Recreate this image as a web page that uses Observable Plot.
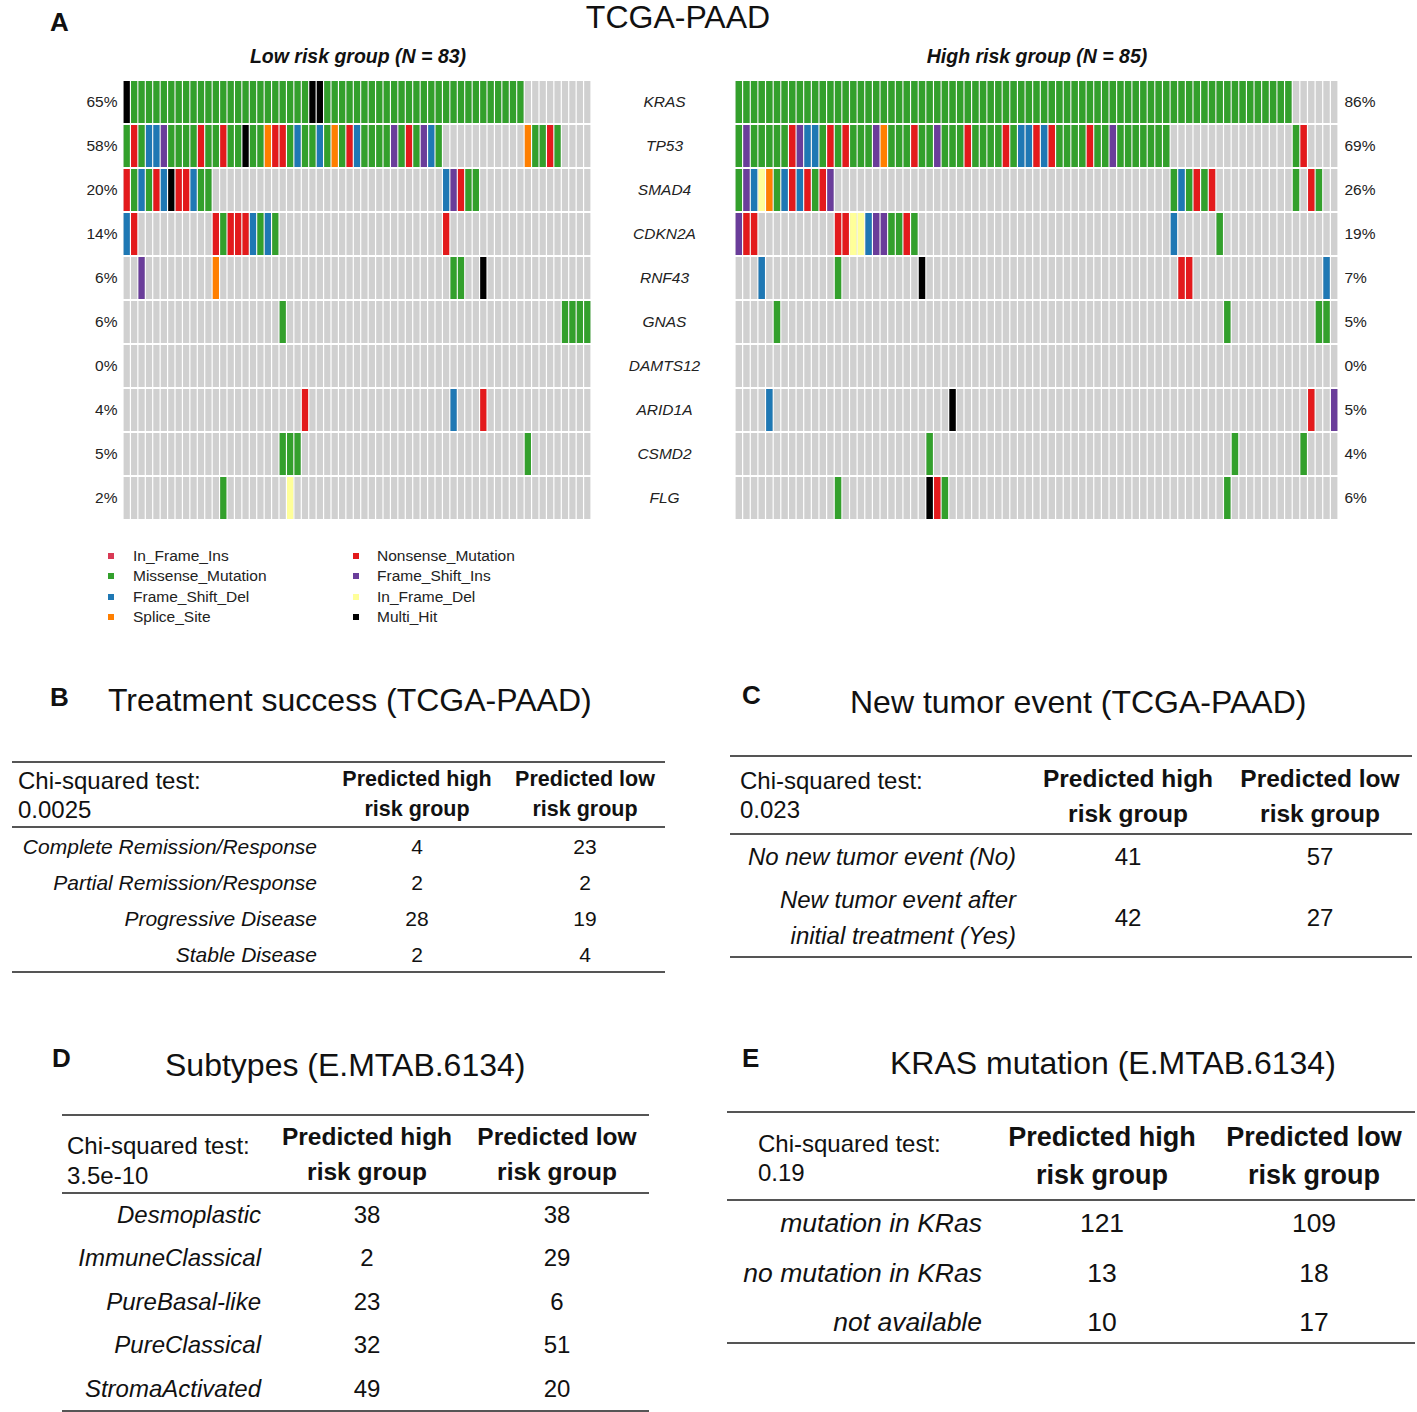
<!DOCTYPE html>
<html>
<head>
<meta charset="utf-8">
<script src="https://cdn.jsdelivr.net/npm/d3@7"></script>
<script src="https://cdn.jsdelivr.net/npm/@observablehq/plot@0.6"></script>
<style>
  html, body { margin: 0; padding: 0; background: #fff; }
  #fig { position: relative; width: 1417px; height: 1412px; overflow: hidden; font-family: "Liberation Sans", Arial, sans-serif; color: #111; }
  .t { position: absolute; white-space: nowrap; line-height: 1; transform: translateY(-50%); }
  .c { transform: translate(-50%, -50%); text-align: center; }
  .r { transform: translate(-100%, -50%); text-align: right; }
  .rule { position: absolute; height: 2px; background: #555; }
  svg { position: absolute; top: 0; }
</style>
</head>
<body>
<div id="fig"></div>
<script>
// ---------------- DATA ----------------
const genes = ["KRAS", "TP53", "SMAD4", "CDKN2A", "RNF43", "GNAS", "DAMTS12", "ARID1A", "CSMD2", "FLG"];
const lowPct = ["65%", "58%", "20%", "14%", "6%", "6%", "0%", "4%", "5%", "2%"];
const highPct = ["86%", "69%", "26%", "19%", "7%", "5%", "0%", "5%", "4%", "6%"];

// mutation codes: M Missense, N Nonsense, D Frame_Shift_Del, I Frame_Shift_Ins,
// S Splice_Site, d In_Frame_Del, i In_Frame_Ins, X Multi_Hit, . none
const mutTypes = ["In_Frame_Ins", "Missense_Mutation", "Frame_Shift_Del", "Splice_Site",
                  "Nonsense_Mutation", "Frame_Shift_Ins", "In_Frame_Del", "Multi_Hit"];
const mutCodes = ["i", "M", "D", "S", "N", "I", "d", "X"];
const mutColors = ["#d93a55", "#33a02c", "#1f78b4", "#ff7f00", "#e31a1c", "#6a3d9a", "#ffff99", "#000000"];

// low risk group: 63 displayed samples (groups of 10)
const lowRows = [
  "XMMMMMMMMM MMMMMMMMMM MMMMMXXMMM MMMMMMMMMM MMMMMMMMMM MMMM...... ...",
  "MNMDDIMMMM NMMNMMXMMS NNMDMMDMSM NDMMMMIMNM IDM....... ....SMMNM. ...",
  "NMDMNDXNND MM........ .......... .......... ...DINMM.. .......... ...",
  "DN........ ..NMNNNDMD M......... .......... ...N...... .......... ...",
  "..I....... ..S....... .......... .......... ....MM..X. .......... ...",
  ".......... .......... .M........ .......... .......... .........M MMM",
  ".......... .......... .......... .......... .......... .......... ...",
  ".......... .......... ....N..... .......... ....D...N. .......... ...",
  ".......... .......... .MMM...... .......... .......... ....M..... ...",
  ".......... ...M...... ..d....... .......... .......... .......... ..."
];
// high risk group: 79 displayed samples
const highRows = [
  "MMMMMMMMMM MMMMMMMMMM MMMMMMMMMM MMMMMMMMMM MMMMMMMMMM MMMMMMMMMM MMMMMMMMMM MMM......",
  "MIMMMMMNID DMNMNMMMIS MMMNMMIMMM NMMMMNMDDN DNMMMMNMMI MMMMMMM... .......... ...MN....",
  "MIDdSMDNDN MNI....... .......... .......... .......... .......MDM NMN....... ...M.NM..",
  "INN....... ...NNddDII MMNM...... .......... .......... .......D.. ...M...... .........",
  "...D...... ...M...... ....X..... .......... .......... ........NN .......... .......D.",
  ".....M.... .......... .......... .......... .......... .......... ....M..... ......MM.",
  ".......... .......... .......... .......... .......... .......... .......... .........",
  "....D..... .......... ........X. .......... .......... .......... .......... .....N..I",
  ".......... .......... .....M.... .......... .......... .......... .....M.... ....M....",
  ".......... ...M...... .....XNM.. .......... .......... .......... ....M..... ........."
];

// tables
const tabBRows = ["Complete Remission/Response", "Partial Remission/Response", "Progressive Disease", "Stable Disease"];
const tabBHigh = [4, 2, 28, 2];
const tabBLow = [23, 2, 19, 4];
const tabBChi = "0.0025";

const tabCRows = [["No new tumor event (No)"], ["New tumor event after", "initial treatment (Yes)"]];
const tabCHigh = [41, 42];
const tabCLow = [57, 27];
const tabCChi = "0.023";

const tabDRows = ["Desmoplastic", "ImmuneClassical", "PureBasal-like", "PureClassical", "StromaActivated"];
const tabDHigh = [38, 2, 23, 32, 49];
const tabDLow = [38, 29, 6, 51, 20];
const tabDChi = "3.5e-10";

const tabERows = ["mutation in KRas", "no mutation in KRas", "not available"];
const tabEHigh = [121, 13, 10];
const tabELow = [109, 18, 17];
const tabEChi = "0.19";

// ---------------- RENDER ----------------
const fig = document.getElementById("fig");
function txt(s, x, y, cls, style) {
  const d = document.createElement("div");
  d.className = "t " + (cls || "");
  d.textContent = s;
  d.style.left = x + "px";
  d.style.top = y + "px";
  Object.assign(d.style, style || {});
  fig.appendChild(d);
  return d;
}
function rule(x1, x2, y, h) {
  const d = document.createElement("div");
  d.className = "rule";
  d.style.left = x1 + "px"; d.style.width = (x2 - x1) + "px";
  d.style.top = (y - (h || 2) / 2) + "px"; d.style.height = (h || 2) + "px";
  fig.appendChild(d);
}

function toCells(rows) {
  const out = [];
  rows.forEach((r, gi) => {
    const s = r.replace(/ /g, "");
    for (let i = 0; i < s.length; i++) out.push({gene: genes[gi], sample: i, code: s[i]});
  });
  return out;
}
const lowCells = toCells(lowRows);
const highCells = toCells(highRows);
const nLow = lowRows[0].replace(/ /g, "").length;
const nHigh = highRows[0].replace(/ /g, "").length;

const cellOpts = {x: "sample", y: "gene", insetLeft: 0.6, insetRight: 0.6, insetTop: 1, insetBottom: 1};
const smallFont = {fontFamily: '"Liberation Sans", sans-serif', fontSize: "15px", background: "transparent", overflow: "visible"};

const lowPlot = Plot.plot({
  width: 600, height: 530, marginLeft: 123, marginRight: 9, marginTop: 80, marginBottom: 10,
  style: smallFont,
  x: {type: "band", domain: d3.range(nLow), padding: 0, round: false, axis: null},
  y: {type: "band", domain: genes, padding: 0, round: false, axis: null},
  color: {type: "ordinal", domain: mutCodes, range: mutColors},
  marks: [
    Plot.cell(lowCells, {...cellOpts, fill: "#d0d0d0"}),
    Plot.cell(lowCells.filter(d => d.code !== "."), {...cellOpts, fill: "code"}),
    Plot.text(genes, {y: d => d, text: (d, i) => lowPct[i], frameAnchor: "left", dx: -6, textAnchor: "end", fill: "#222", fontSize: 15.5})
  ]
});
lowPlot.style.left = "0px";
fig.appendChild(lowPlot);

const highPlot = Plot.plot({
  width: 790, height: 530, marginLeft: 135, marginRight: 52, marginTop: 80, marginBottom: 10,
  style: smallFont,
  x: {type: "band", domain: d3.range(nHigh), padding: 0, round: false, axis: null},
  y: {type: "band", domain: genes, padding: 0, round: false, axis: null},
  color: {type: "ordinal", domain: mutCodes, range: mutColors},
  marks: [
    Plot.cell(highCells, {...cellOpts, fill: "#d0d0d0"}),
    Plot.cell(highCells.filter(d => d.code !== "."), {...cellOpts, fill: "code"}),
    Plot.text(genes, {y: d => d, text: (d, i) => highPct[i], frameAnchor: "right", dx: 6, textAnchor: "start", fill: "#222", fontSize: 15.5}),
    Plot.text(genes, {y: d => d, text: d => d, frameAnchor: "left", dx: -71, textAnchor: "middle", fontStyle: "italic", fill: "#222", fontSize: 15.5})
  ]
});
highPlot.style.left = "600px";
fig.appendChild(highPlot);

// Panel A headings
txt("A", 50, 22, "", {fontSize: "26px", fontWeight: "bold"});
txt("TCGA-PAAD", 678, 17, "c", {fontSize: "32px"});
txt("Low risk group (N = 83)", 358, 57, "c", {fontSize: "19.5px", fontWeight: "bold", fontStyle: "italic"});
txt("High risk group (N = 85)", 1037, 57, "c", {fontSize: "19.5px", fontWeight: "bold", fontStyle: "italic"});

// Legend
const legX = [108, 353], legLabX = [133, 377], legY = [556, 576, 597, 617];
mutTypes.forEach((m, i) => {
  const col = Math.floor(i / 4), row = i % 4;
  const sq = document.createElement("div");
  sq.style.cssText = `position:absolute;left:${legX[col]}px;top:${legY[row] - 3}px;width:6px;height:6px;background:${mutColors[i]}`;
  fig.appendChild(sq);
  txt(m, legLabX[col], legY[row], "", {fontSize: "15.5px", color: "#222"});
});

// Tables
function table(cfg) {
  txt(cfg.letter, cfg.letterX, cfg.letterY, "", {fontSize: "26px", fontWeight: "bold"});
  txt(cfg.title, cfg.titleX, cfg.titleY, "", {fontSize: "32px"});
  rule(cfg.x1, cfg.x2, cfg.top);
  txt("Chi-squared test:", cfg.chiX, cfg.hy[0], "", {fontSize: cfg.chiFs + "px"});
  txt(cfg.chi, cfg.chiX, cfg.hy[1], "", {fontSize: cfg.chiFs + "px"});
  [["Predicted high", "risk group"], ["Predicted low", "risk group"]].forEach((h, j) => {
    txt(h[0], cfg.colX[j], cfg.hy2[0], "c", {fontSize: cfg.hFs + "px", fontWeight: "bold"});
    txt(h[1], cfg.colX[j], cfg.hy2[1], "c", {fontSize: cfg.hFs + "px", fontWeight: "bold"});
  });
  rule(cfg.x1, cfg.x2, cfg.mid);
  cfg.rows.forEach((r, i) => {
    const lines = Array.isArray(r) ? r : [r];
    const y = cfg.rowY[i];
    lines.forEach((l, k) => {
      const ly = lines.length === 1 ? y : y + (k - (lines.length - 1) / 2) * cfg.lineGap;
      txt(l, cfg.labelX, ly, "r", {fontSize: cfg.rFs + "px", fontStyle: "italic"});
    });
    txt(String(cfg.high[i]), cfg.colX[0], y, "c", {fontSize: cfg.rFs + "px"});
    txt(String(cfg.low[i]), cfg.colX[1], y, "c", {fontSize: cfg.rFs + "px"});
  });
  rule(cfg.x1, cfg.x2, cfg.bottom);
}

table({letter: "B", letterX: 50, letterY: 697, title: "Treatment success (TCGA-PAAD)", titleX: 108, titleY: 700,
  x1: 12, x2: 665, top: 762, mid: 827, bottom: 972,
  chiX: 18, chi: tabBChi, hy: [781, 810], chiFs: 24, hy2: [780, 810], hFs: 21.5, colX: [417, 585],
  rows: tabBRows, high: tabBHigh, low: tabBLow, rowY: [846, 882, 918, 954], labelX: 317, rFs: 21, lineGap: 36});

table({letter: "C", letterX: 742, letterY: 695, title: "New tumor event (TCGA-PAAD)", titleX: 850, titleY: 702,
  x1: 730, x2: 1412, top: 756, mid: 834, bottom: 957,
  chiX: 740, chi: tabCChi, hy: [781, 810], chiFs: 24, hy2: [779, 814], hFs: 24.5, colX: [1128, 1320],
  rows: tabCRows, high: tabCHigh, low: tabCLow, rowY: [857, 918], labelX: 1016, rFs: 24, lineGap: 36});

table({letter: "D", letterX: 52, letterY: 1058, title: "Subtypes (E.MTAB.6134)", titleX: 165, titleY: 1065,
  x1: 62, x2: 649, top: 1115, mid: 1193, bottom: 1411,
  chiX: 67, chi: tabDChi, hy: [1146, 1176], chiFs: 24, hy2: [1137, 1172], hFs: 24.5, colX: [367, 557],
  rows: tabDRows, high: tabDHigh, low: tabDLow, rowY: [1215, 1258, 1302, 1345, 1389], labelX: 261, rFs: 24, lineGap: 36});

table({letter: "E", letterX: 742, letterY: 1058, title: "KRAS mutation (E.MTAB.6134)", titleX: 890, titleY: 1063,
  x1: 727, x2: 1415, top: 1112, mid: 1200, bottom: 1343,
  chiX: 758, chi: tabEChi, hy: [1144, 1173], chiFs: 24, hy2: [1137, 1175], hFs: 27, colX: [1102, 1314],
  rows: tabERows, high: tabEHigh, low: tabELow, rowY: [1223, 1273, 1322], labelX: 982, rFs: 26.5, lineGap: 36});
</script>
</body>
</html>
